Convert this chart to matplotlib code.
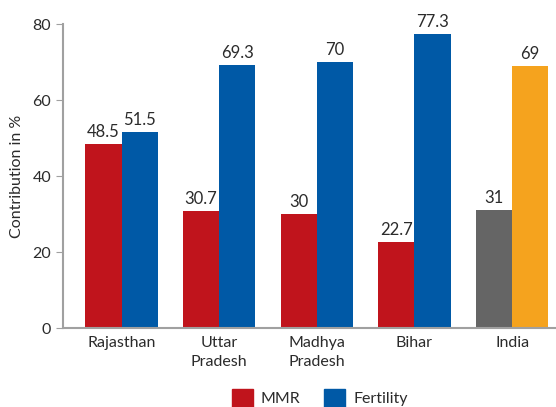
import numpy as np
import matplotlib
matplotlib.use("Agg")
import matplotlib.pyplot as plt
from matplotlib.patches import Patch

states = ["Rajasthan", "Uttar\nPradesh", "Madhya\nPradesh", "Bihar", "India"]
mmr = [48.5, 30.7, 30, 22.7, 31]
fertility = [51.5, 69.3, 70, 77.3, 69]
mmr_labels = ["48.5", "30.7", "30", "22.7", "31"]
fert_labels = ["51.5", "69.3", "70", "77.3", "69"]

red = "#C0141C"
blue = "#0059A6"
grey = "#656565"
orange = "#F5A31E"
text_col = "#2b2b2b"

plt.rcParams["font.family"] = ["Lato", "DejaVu Sans"]

fig = plt.figure(figsize=(5.56, 4.07), dpi=100)
ax = fig.add_axes([0.1133, 0.194, 0.8867, 0.747])

x = np.arange(len(states))
width = 0.37
mmr_colors = [red] * 4 + [grey]
fert_colors = [blue] * 4 + [orange]

b1 = ax.bar(x - width / 2, mmr, width, color=mmr_colors)
b2 = ax.bar(x + width / 2, fertility, width, color=fert_colors)

# value labels above each bar
for bars, labels in ((b1, mmr_labels), (b2, fert_labels)):
    for rect, lab in zip(bars, labels):
        ax.annotate(lab, (rect.get_x() + rect.get_width() / 2, rect.get_height()),
                    xytext=(0, 3), textcoords="offset points", ha="center", va="bottom",
                    fontsize=12, color=text_col)

ax.set_xlim(-0.6, 4.45)
ax.set_ylim(0, 80)
ax.set_yticks([0, 20, 40, 60, 80])
ax.set_xticks(x)
ax.set_xticklabels(states, fontsize=11.5, color=text_col, linespacing=1.4)
ax.tick_params(axis="x", length=0, pad=6)
ax.tick_params(axis="y", length=5, color="#a0a0a0", labelsize=11.5, labelcolor=text_col, direction="out")
ax.set_ylabel("Contribution in %", fontsize=11.5, color=text_col, labelpad=6)

for s in ["top", "right"]:
    ax.spines[s].set_visible(False)
for s in ["left", "bottom"]:
    ax.spines[s].set_color("#a0a0a0")
    ax.spines[s].set_linewidth(1.5)

handles = [Patch(color=red, label="MMR"), Patch(color=blue, label="Fertility")]
fig.legend(handles=handles, loc="center", bbox_to_anchor=(0.575, 0.022), ncol=2,
           frameon=False, fontsize=11.5, handlelength=1.3, handleheight=1.3,
           handletextpad=0.5, columnspacing=1.5, labelcolor=text_col)

fig.savefig("out.png", dpi=100)
